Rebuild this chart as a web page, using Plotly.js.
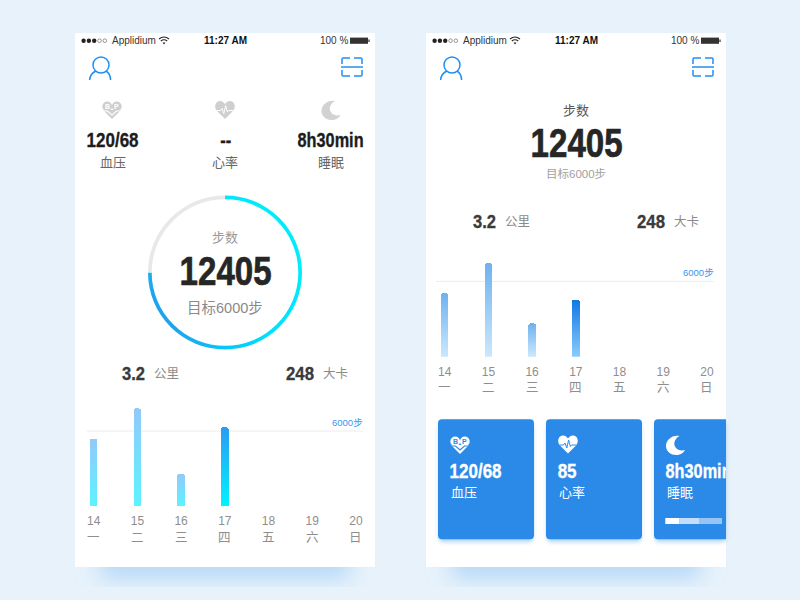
<!DOCTYPE html>
<html><head><meta charset="utf-8">
<script src="https://cdn.plot.ly/plotly-3.0.1.min.js"></script>
<style>html,body{margin:0;padding:0;background:#e7f2fb}#c{width:800px;height:600px}</style>
</head><body><div id="c"></div>
<script>
// ---- data ----
const days = ['14','15','16','17','18','19','20'];
const weekdays = ['一','二','三','四','五','六','日'];
const stepsLeft = [5400,7800,2600,6300,null,null,null];
const stepsRight = [5050,7450,2650,4550,null,null,null];
const goalSteps = 6000;
const ringValues = [75,25];
const bloodPressure = '120/68';
const heartLeft = '--';
const heartRight = '85';
const sleep = '8h30min';
const stepCount = '12405';
const distance = '3.2';
const calories = '248';

// ---- helpers ----
const NUM = '"Liberation Sans",sans-serif';
const CJK = '"Liberation Sans","Noto Sans CJK SC",sans-serif';
const shapes = [], annotations = [], narrow = [];
const S = o => { shapes.push(Object.assign({xref:'x',yref:'y',layer:'below',line:{width:0}},o)); return shapes.length-1; };
const rect = (x0,y0,x1,y1,fill,opacity) => S({type:'rect',x0,y0,x1,y1,fillcolor:fill,opacity:opacity===undefined?1:opacity});
const rr = (x0,y0,x1,y1,r,fill,opacity) => S({type:'path',fillcolor:fill,opacity:opacity===undefined?1:opacity,
  path:`M${x0+r},${y0} L${x1-r},${y0} Q${x1},${y0} ${x1},${y0+r} L${x1},${y1-r} Q${x1},${y1} ${x1-r},${y1} L${x0+r},${y1} Q${x0},${y1} ${x0},${y1-r} L${x0},${y0+r} Q${x0},${y0} ${x0+r},${y0} Z`});
const circle = (cx,cy,r,fill,lc,lw) => S({type:'circle',x0:cx-r,x1:cx+r,y0:cy-r,y1:cy+r,fillcolor:fill,line:{width:lw||0,color:lc||fill}});
const stroke = (path,color,w) => S({type:'path',path,line:{color,width:w}});
const fillp = (path,color) => S({type:'path',path,fillcolor:color});
const tr = (path,dx,dy,k) => { k=k||1; return path.replace(/(-?[\d.]+),(-?[\d.]+)/g,(m,a,b)=>`${(+a*k+dx).toFixed(2)},${(+b*k+dy).toFixed(2)}`); };
const T = (text,x,y,size,color,o) => { annotations.push(Object.assign({text,x,y,xref:'x',yref:'y',showarrow:false,xanchor:'center',yanchor:'middle',borderpad:0,
  font:{family:CJK,size,color}},o||{})); return annotations.length-1; };
// condensed bold numerals: the glyph run is fitted to the reference width after drawing
const N = (text,cx,cy,size,color,w) => { const i=T(text,cx,cy,size,color,{font:{family:NUM,size,color,weight:700}}); narrow.push([i,w,size]); return i; };

const HEART = 'M0,9 L-8,1 C-11.5,-3 -9.5,-9 -5,-9 C-2.5,-9 -1,-7.5 0,-6 C1,-7.5 2.5,-9 5,-9 C9.5,-9 11.5,-3 8,1 Z';
const ECG = 'M-8.5,0.5 L-4.5,0.5 L-3,-1.5 L-1.2,3.5 L0.6,-4.5 L2.4,2 L3.6,0.5 L8.5,0.5';
const MOON = 'M4,-9 C-3,-10.5 -10,-5 -9.5,1.5 C-9,7 -4.5,10 0.5,10 C4.5,10 8,8 9.5,5 C3,7 -2.5,2 -1,-3 C-0.3,-5.5 1.5,-8 4,-9 Z';
const BPV = 'M-10,1 L-4.5,1 L0,5 L4.5,1 L10,1';

function bpIcon(cx,cy,fg,bg){
  fillp(tr('M-9,0 L0,9 L9,0 Z',cx,cy),fg);
  circle(cx-4.8,cy-3.6,4.9,fg); circle(cx+4.8,cy-3.6,4.9,fg);
  stroke(tr(BPV,cx,cy),bg,1.2);
  T('B',cx-4.8,cy-3.6,7,bg,{font:{family:CJK,size:7,color:bg,weight:700}});
  T('P',cx+4.8,cy-3.6,7,bg,{font:{family:CJK,size:7,color:bg,weight:700}});
}
function hrIcon(cx,cy,fg,bg){ fillp(tr(HEART,cx,cy),fg); stroke(tr(ECG,cx,cy),bg,1); }
function moonIcon(cx,cy,fg){ fillp(tr(MOON,cx,cy),fg); }

function panel(dx){
  const ac = '#1f8ff5';
  [0,1,2].forEach(i=>circle(dx+83.6+i*5.3,40.7,2.2,'#222'));
  [3,4].forEach(i=>circle(dx+83.6+i*5.3,40.7,1.8,'#fff','#555',0.6));
  T('Applidium',dx+111,40.7,10,'#333',{xanchor:'left'});
  const w = dx+164;
  stroke(`M${w-5},39 Q${w},35 ${w+5},39`,'#222',1.1);
  stroke(`M${w-3.2},41 Q${w},38.4 ${w+3.2},41`,'#222',1.1);
  fillp(`M${w-1.5},42.6 L${w+1.5},42.6 L${w},44.4 Z`,'#222');
  T('11:27 AM',dx+225.7,40.7,10,'#111',{font:{family:CJK,size:10,color:'#111',weight:700}});
  T('100 %',dx+319,40.7,10,'#333',{xanchor:'left'});
  rect(dx+350,37.6,dx+368,43.8,'#333');
  rect(dx+368.4,39.4,dx+369.6,42,'#333');
  S({type:'circle',x0:dx+93,x1:dx+109,y0:57,y1:73,line:{color:ac,width:1.5}});
  stroke(`M${dx+89.6},80 C${dx+90},75.5 ${dx+92.5},72.5 ${dx+96},71`,ac,1.5);
  stroke(`M${dx+106},71 C${dx+108.5},72.5 ${dx+110.5},75.5 ${dx+110.6},80`,ac,1.5);
  const sx=dx+342, sw=20;
  [`M${sx},64 L${sx},59 Q${sx},58 ${sx+1},58 L${sx+8},58`,`M${sx+12},58 L${sx+19},58 Q${sx+sw},58 ${sx+sw},59 L${sx+sw},64`,
   `M${sx},70 L${sx},75 Q${sx},76 ${sx+1},76 L${sx+8},76`,`M${sx+12},76 L${sx+19},76 Q${sx+sw},76 ${sx+sw},75 L${sx+sw},70`]
   .forEach(p=>stroke(p,ac,1.5));
  stroke(`M${sx-1},67 L${sx+sw+1},67`,ac,1.5);
}

// ---- backdrop ----
const shadowIdx = [rr(100,548,350,578,6,'#b3d7f6'), rr(451,548,701,578,6,'#b3d7f6')];
rect(75,33,375,567,'#ffffff');
rect(426,33,726,567,'#ffffff');
panel(0); panel(351);

// ---- left phone ----
bpIcon(112,110,'#cfcfcf','#ffffff'); hrIcon(225,110,'#cfcfcf','#ffffff'); moonIcon(331,110,'#d2d2d2');
N(bloodPressure,112,140,20,'#1c1c1c',52); T('血压',112.5,162.7,13,'#666');
N(heartLeft,225,140,20,'#1c1c1c',11); T('心率',225,162.7,13,'#666');
N(sleep,330.7,140,20,'#1c1c1c',66); T('睡眠',330.7,162.7,13,'#666');
T('步数',225,237.7,13,'#999');
N(stepCount,225,271,40,'#262626',92);
T('目标6000步',225,308,14.5,'#8a8a8a');
N(distance,133.7,374,18,'#3a3a3a',23); T('公里',153,374,12.5,'#8a8a8a',{xanchor:'left'});
N(calories,300.2,374,18,'#3a3a3a',28); T('大卡',322.3,374,12.5,'#8a8a8a',{xanchor:'left'});

// ---- right phone ----
T('步数',576,110,13,'#555');
N(stepCount,576,142.7,40,'#262626',92);
T('目标6000步',576,174.3,11.5,'#a0a0a0');
N(distance,484.7,222.3,18,'#3a3a3a',23); T('公里',504,222.3,12.5,'#8a8a8a',{xanchor:'left'});
N(calories,651,222.3,18,'#3a3a3a',28); T('大卡',673.3,222.3,12.5,'#8a8a8a',{xanchor:'left'});

// cards
const cardBlue = '#2b8ae8';
const cardShadow = [rr(439,422,533,542,4,'#8cc2f2',.7), rr(547,422,641,542,4,'#8cc2f2',.7), rr(655,422,726,542,4,'#8cc2f2',.7)];
rr(438,419.3,534,539.3,4,cardBlue); rr(546,419.3,642,539.3,4,cardBlue);
S({type:'path',fillcolor:cardBlue,path:'M658,419.3 L726,419.3 L726,539.3 L658,539.3 Q654,539.3 654,535.3 L654,423.3 Q654,419.3 658,419.3 Z'});
bpIcon(460,445,'#ffffff',cardBlue); hrIcon(568,444.5,'#ffffff',cardBlue); moonIcon(675.5,445,'#ffffff');
N(bloodPressure,475.2,471,20,'#ffffff',52); T('血压',449.6,492.7,13,'#fff',{xanchor:'left'});
N(heartRight,566.7,471,20,'#ffffff',19); T('心率',557.6,492.7,13,'#fff',{xanchor:'left'});
const sleepAnn = N(sleep,698.3,471,20,'#ffffff',66); T('睡眠',665.6,492.7,13,'#fff',{xanchor:'left'});
rect(665.3,518,679.3,524,'#ffffff'); rect(679.3,518,699.3,524,'#ffffff',.72); rect(699.3,518,722,524,'#ffffff',.5);

// goal lines & labels (drawn in the chart axes)
S({type:'line',xref:'x2',yref:'y2',x0:-0.153,x1:6.16,y0:goalSteps,y1:goalSteps,line:{color:'#ececec',width:1}});
S({type:'line',xref:'x3',yref:'y3',x0:-0.198,x1:6.16,y0:goalSteps,y1:goalSteps,line:{color:'#ececec',width:1}});
T('6000步',347,422.7,9.5,'#3a94ec');
T('6000步',698,272.7,9.5,'#3a94ec');

// weekday labels under the bars
const H = 600;
weekdays.forEach((w,i)=>{
  T(w,i,537.7,12.5,'#8e8e8e',{xref:'x2'});
  T(w,i,387.5,12.5,'#8e8e8e',{xref:'x3'});
});

// ---- traces ----
const barW = 7.5/43.7;
const traces = [
 {type:'bar',x:days,y:stepsLeft,xaxis:'x2',yaxis:'y2',width:barW,marker:{color:'#8fc9f8',cornerradius:2,line:{width:0}},hoverinfo:'skip',showlegend:false},
 {type:'bar',x:days,y:stepsRight,xaxis:'x3',yaxis:'y3',width:barW,marker:{color:'#6fb3ef',cornerradius:2,line:{width:0}},hoverinfo:'skip',showlegend:false},
 {type:'pie',values:ringValues,hole:0.952,sort:false,direction:'clockwise',rotation:0,textinfo:'none',hoverinfo:'skip',showlegend:false,
  marker:{colors:['#00dcff','#e8e8e8'],line:{width:0}},domain:{x:[148/800,302/800],y:[1-349.5/600,1-195.5/600]}}
];
const cat = (d,dom)=>({type:'category',categoryorder:'array',categoryarray:days,domain:dom,anchor:d,showgrid:false,zeroline:false,showline:false,ticks:'',
  tickvals:days,ticktext:days,tickfont:{family:CJK,size:12,color:'#8e8e8e'},ticklabelstandoff:6,fixedrange:true});
const val = (d,a)=>({domain:d,range:[0,8000],anchor:a,visible:false,fixedrange:true});
const layout = {
  width:800,height:600,margin:{l:0,r:0,t:0,b:0},paper_bgcolor:'#e7f2fb',plot_bgcolor:'rgba(0,0,0,0)',showlegend:false,
  xaxis:{range:[0,800],domain:[0,1],visible:false,fixedrange:true},
  yaxis:{range:[600,0],domain:[0,1],visible:false,fixedrange:true},
  xaxis2:cat('y2',[71.85/800,377.75/800]),
  yaxis2:val([1-506.3/H,1-405.9/H],'x2'),
  xaxis3:cat('y3',[422.85/800,728.75/800]),
  yaxis3:val([1-356.7/H,1-256.3/H],'x3'),
  bargap:0,shapes,annotations
};
const gradients = {
  la:['#93c9f9','#5cf3ff'], ld:['#2a9bf5','#00f2ff'],
  ra:['#6eb2ef','#cbe8fc'], rd:['#0f77e4','#8ccbfa']
};
Plotly.newPlot('c',traces,layout,{displayModeBar:false,staticPlot:true}).then(gd=>{
  const svg = gd.querySelector('.main-svg');
  const NS = 'http://www.w3.org/2000/svg';
  const defs = svg.querySelector('defs');
  const mk = (id,stops,attrs)=>{
    const g=document.createElementNS(NS,'linearGradient'); g.id=id;
    Object.entries(attrs).forEach(([k,v])=>g.setAttribute(k,v));
    stops.forEach(([o,c])=>{const s=document.createElementNS(NS,'stop');s.setAttribute('offset',o);s.setAttribute('stop-color',c);g.appendChild(s);});
    defs.appendChild(g);
  };
  const V={x1:0,y1:0,x2:0,y2:1};
  Object.entries(gradients).forEach(([k,c])=>mk('g'+k,[[0,c[0]],[1,c[1]]],V));
  mk('gring',[[0,'#00ecfb'],[.45,'#00e0ff'],[.78,'#06c6fb'],[1,'#1ea4ee']],{x1:.8,y1:.1,x2:0,y2:.6});
  gd.querySelectorAll('.barlayer .trace').forEach((t,ti)=>{
    const pre = ti===0?'l':'r';
    t.querySelectorAll('.point path').forEach((p,i)=>{ p.style.fill=`url(#g${pre}${i===3?'d':'a'})`; });
  });
  const sl = gd.querySelector('.slice path.surface');
  if(sl) sl.style.fill='url(#gring)';
  const blur=(id,sd)=>{const f=document.createElementNS(NS,'filter');f.id=id;['x','y'].forEach(a=>f.setAttribute(a,'-30%'));['width','height'].forEach(a=>f.setAttribute(a,'160%'));
    const b=document.createElementNS(NS,'feGaussianBlur');b.setAttribute('stdDeviation',sd);f.appendChild(b);defs.appendChild(f);};
  blur('b1',11); blur('b2',2);
  const clip=document.createElementNS(NS,'clipPath');clip.id='cr';const r=document.createElementNS(NS,'rect');
  r.setAttribute('x',0);r.setAttribute('y',0);r.setAttribute('width',726);r.setAttribute('height',600);clip.appendChild(r);defs.appendChild(clip);
  shadowIdx.forEach(i=>{const p=gd.querySelector(`.shapelayer path[data-index="${i}"]`);if(p){p.style.filter='url(#b1)';p.removeAttribute('clip-path');}});
  cardShadow.forEach(i=>{const p=gd.querySelector(`.shapelayer path[data-index="${i}"]`);if(p){p.style.filter='url(#b2)';}});
  narrow.forEach(([i,w,size])=>{
    const t=gd.querySelector(`.annotation[data-index="${i}"] text`);
    if(!t) return;
    t.setAttribute('textLength',w);
    t.setAttribute('lengthAdjust','spacingAndGlyphs');
    t.style.stroke=t.style.fill; t.style.strokeWidth=(size/60)+'px';
  });
  const a=gd.querySelector(`.annotation[data-index="${sleepAnn}"]`);
  if(a) a.setAttribute('clip-path','url(#cr)');
});
</script></body></html>
